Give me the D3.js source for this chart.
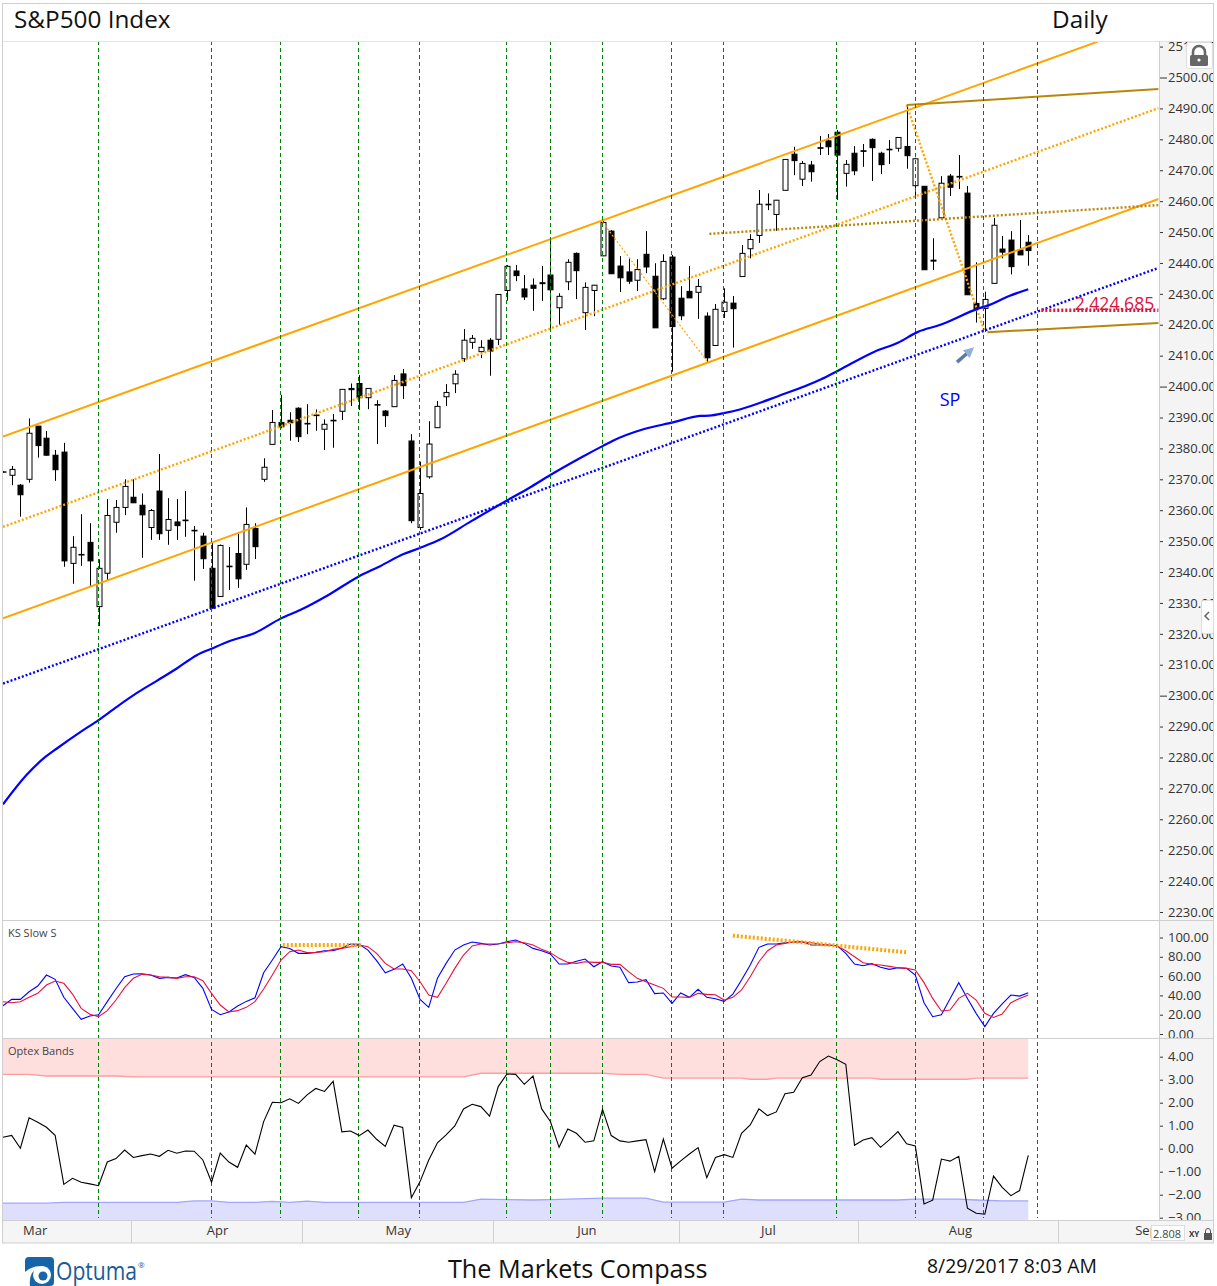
<!DOCTYPE html>
<html>
<head>
<meta charset="utf-8">
<title>S&amp;P500 Index</title>
<script src="https://cdn.jsdelivr.net/npm/d3@7/dist/d3.min.js"></script>
<style>
    html, body { margin: 0; padding: 0; background: #fff; }
    svg { display: block; font-family: "Open Sans", sans-serif; }
    .axis path.domain { display: none; }
    .axis line { stroke: #333; }
    .axis text { fill: #333; font-size: 13px; font-family: "Open Sans", sans-serif; }
</style>
</head>
<body>
<div id="chart"></div>
<script>
// first bar is index -1 (cut by the left edge), last is 117
var opens = [2372.3,
    2371.3, 2368.1, 2370, 2387.2, 2383.3, 2377.8, 2378.8, 2342.8, 2345.5, 2349.6,
    2328.8, 2339.6, 2356.1, 2360.9, 2364.2, 2361.6, 2354.4, 2366.2, 2353.5, 2356.2,
    2356.6, 2353.3, 2351.6, 2341.2, 2332.1, 2341.7, 2346, 2342.5, 2354.1, 2370,
    2381.3, 2388.4, 2389.1, 2393, 2387.9, 2390.8, 2386.2, 2388.9, 2392, 2399.4,
    2401, 2396.4, 2394, 2392.1, 2393.5, 2404.1, 2382.4, 2354.4, 2370.8, 2386.7,
    2396.7, 2400.9, 2409, 2414.3, 2411.3, 2415, 2415.3, 2431.1, 2437.4, 2431.6,
    2431.8, 2433.3, 2436.1, 2425.5, 2433.9, 2443.1, 2423.9, 2431.1, 2442.3, 2450.3,
    2439, 2437.1, 2434.4, 2442.8, 2435.7, 2428.4, 2441.9, 2428.6, 2430.8, 2430.5,
    2422.8, 2413.3, 2424.3, 2427, 2435.6, 2444.6, 2448.9, 2458.8, 2455.7, 2463.5,
    2475.2, 2467.1, 2471.7, 2477.1, 2479.5, 2482.3, 2469, 2475.5, 2476.1, 2480,
    2475.5, 2476.6, 2477.1, 2477.7, 2465, 2464.8, 2440.9, 2454.6, 2468.1, 2467.8,
    2462.6, 2426.9, 2425.3, 2433.4, 2444.5, 2447.4, 2444.2, 2446.7];
var closes = [2372.4,
    2373.2, 2365, 2384.9, 2380.9, 2377.8, 2373.1, 2343.6, 2348, 2345.7, 2343.6,
    2341.2, 2358.3, 2360.9, 2367.7, 2362.4, 2358.5, 2359.9, 2352.4, 2357, 2355,
    2356.8, 2353.5, 2344.3, 2328.3, 2348.6, 2341.9, 2337.8, 2355.4, 2348.2, 2373.9,
    2388.4, 2387, 2388.3, 2383.8, 2388.1, 2390.6, 2387.8, 2389.1, 2399.1, 2399,
    2396.4, 2399.4, 2394.2, 2390.6, 2402, 2400.3, 2356.6, 2365.4, 2381.4, 2393.6,
    2398.1, 2404, 2415, 2415.6, 2412.7, 2411.5, 2429.8, 2438.9, 2435.9, 2429,
    2432.8, 2433.6, 2431.3, 2429.2, 2440.2, 2437.5, 2432.1, 2432.8, 2453.1, 2436.5,
    2435.2, 2434.1, 2437.9, 2438.7, 2419, 2440.5, 2419.4, 2422.9, 2428.7, 2432.4,
    2409.3, 2425, 2427.3, 2425.2, 2443.1, 2447.6, 2459, 2459, 2460.3, 2473.5,
    2473.1, 2472.2, 2469.5, 2477.3, 2477.6, 2474.9, 2471.9, 2469.8, 2476.3, 2477.3,
    2471.8, 2476.8, 2480.6, 2474.7, 2473.7, 2437.8, 2440.6, 2465.8, 2464.5, 2468,
    2429.7, 2425.3, 2428.2, 2452.2, 2443.5, 2438.8, 2442.6, 2444];
var highs = [2372.6,
    2374.3, 2368.5, 2389.7, 2387.2, 2385.6, 2379.5, 2381.8, 2351.6, 2358.7, 2355.8,
    2344.1, 2363.6, 2363.3, 2370, 2370, 2365.4, 2360.4, 2378.2, 2363.9, 2363.6,
    2366.2, 2354.9, 2352.7, 2349.4, 2348.9, 2348.1, 2352.5, 2360.9, 2355.8, 2376.8,
    2392.4, 2397.3, 2391.7, 2393.3, 2394.3, 2392.6, 2389.4, 2391.1, 2399.2, 2401,
    2403.7, 2399.4, 2395.6, 2392.4, 2403.7, 2405.7, 2384.6, 2375.7, 2388.8, 2395.3,
    2400.8, 2405.3, 2418.6, 2416.7, 2415, 2415.7, 2429.9, 2439.3, 2439.3, 2436.1,
    2435, 2439, 2447.4, 2430.2, 2441.2, 2443.4, 2433.7, 2432.9, 2453.7, 2450.7,
    2442.2, 2441.5, 2441.2, 2450.3, 2439.9, 2442.8, 2442.6, 2432.5, 2439, 2434.8,
    2424, 2426.7, 2431.8, 2429.3, 2445.8, 2449.3, 2463.6, 2462.5, 2460.4, 2473.5,
    2477.6, 2473, 2473, 2481.1, 2481.7, 2483, 2473.3, 2477.8, 2478.5, 2480.3,
    2476, 2479.8, 2480.6, 2491.1, 2474, 2464.9, 2448, 2468.1, 2468.8, 2474.9,
    2464.9, 2440.2, 2430.7, 2454.6, 2448.7, 2450.3, 2453.9, 2449];
var lows = [2372.2,
    2368.1, 2357.9, 2368.9, 2377, 2377.6, 2369.5, 2341.7, 2336.2, 2342, 2335.4,
    2322.5, 2337.3, 2352.7, 2358.4, 2362.4, 2344.6, 2350.4, 2350.4, 2348.8, 2350.4,
    2351.4, 2337.2, 2341, 2328.2, 2332, 2334.2, 2334.9, 2340.7, 2344.2, 2369.2,
    2381.3, 2386.5, 2382.5, 2382.1, 2384.6, 2385.7, 2379.5, 2380.2, 2389.2, 2393.7,
    2392.4, 2392.7, 2381.4, 2386.9, 2393.5, 2396, 2355.8, 2353.6, 2370.2, 2386.7,
    2393.7, 2397.9, 2408, 2412.2, 2409.2, 2403.5, 2413.4, 2427.8, 2434.1, 2428,
    2424.5, 2427.7, 2418.9, 2419.9, 2431.2, 2428.3, 2418.3, 2422.8, 2442.2, 2436.5,
    2430.6, 2433.2, 2430.9, 2436.7, 2419, 2428, 2404.8, 2421.5, 2428.7, 2421.9,
    2407.8, 2413.2, 2422.2, 2412.6, 2435.6, 2441.5, 2446.5, 2457.1, 2450.4, 2463.5,
    2468.4, 2464.9, 2466.3, 2474.9, 2474.9, 2460.4, 2464.7, 2468.4, 2471.1, 2466.5,
    2468.8, 2472, 2476, 2470.5, 2462, 2437.8, 2437.7, 2454.6, 2461.7, 2463.9,
    2429.7, 2420.7, 2417.7, 2433.4, 2441.5, 2436.3, 2442.6, 2439.1];

// moving average, read at the bends of the line
var maIndex = [-1, 1.7, 3.8, 5.2, 8.1, 10, 12.1, 14.6, 16.7, 19, 21.3, 23, 25.1, 28, 31, 33.2, 36.4, 39.9, 42.4, 45.1, 46.9, 49.3, 52.8, 56.9, 59.5, 62, 65.7, 68.1, 69.2, 72.7, 76.1, 79.2, 80.3, 82.1, 83.8, 88.2, 93.1, 95.2, 99.3, 102, 104.3, 106.8, 111.3, 112.3, 114.8, 117];
var maValues = [2264.8, 2274.3, 2280, 2282.9, 2288.6, 2292.1, 2296.4, 2301.2, 2304.8, 2308.8, 2313.1, 2315.2, 2317.7, 2320.3, 2325, 2327.7, 2332.5, 2338.5, 2341.9, 2345.8, 2347.7, 2350.5, 2356.3, 2363, 2367.1, 2371.4, 2377.3, 2380.9, 2382.5, 2386.2, 2388.4, 2390.5, 2390.6, 2391.5, 2392.6, 2396.9, 2402.3, 2405.3, 2411.3, 2414.2, 2417.7, 2419.9, 2425.3, 2426.2, 2429.3, 2431.5];

// KS Slow S
var ksBlue = [29.3, 35.9, 35.9, 43.8, 49.7, 61.1, 56.6, 38, 26.6, 15.2,
    18.6, 20, 33.5, 46.9, 59.4, 62.1, 62.5, 61.1, 57.7, 58.7,
    58, 61.5, 58.7, 47.3, 25.5, 20, 22.8, 29, 33.8, 37.6,
    63.5, 76.7, 90.5, 88.7, 83.6, 83.6, 84.6, 86.3, 86.3, 89.1,
    93.2, 92.9, 87, 76, 63.5, 67, 72.5, 57.7, 35.9, 27.6,
    57.7, 73.2, 87, 92.2, 95.3, 93.9, 92.2, 93.2, 95.6, 97.4,
    93.9, 88.7, 86.3, 82.9, 72.5, 72.5, 75.3, 77.7, 69.7, 74.9,
    70.4, 69.1, 53.2, 53.9, 56.3, 41.8, 42.5, 31.7, 42.5, 38,
    46.3, 38, 36.6, 33.8, 41.4, 55.9, 71.5, 89.8, 93.2, 93.2,
    94.6, 95.3, 95.6, 92.2, 92.2, 92.2, 91.5, 83.6, 72.5, 70.8,
    72.9, 69.1, 67, 68.7, 68, 61.1, 32.4, 17.9, 20, 36.6,
    53.2, 36.9, 21.4, 7.6, 21.4, 31.1, 40.4, 39.3, 42.8];
var ksRed = [33.5, 32.4, 33.5, 38, 42.1, 50.7, 54.9, 52.5, 41.4, 26.6,
    20.4, 17.9, 24.2, 35.2, 48, 57.7, 61.8, 61.1, 59.4, 58.7,
    57.7, 59.4, 59.4, 55.2, 42.1, 30, 22.8, 24.2, 27.6, 33.5,
    46.6, 61.1, 76.7, 85.3, 87, 84.3, 84.6, 85.3, 87.7, 88.7,
    90.5, 92.2, 90.5, 83.6, 73.2, 67.3, 67.3, 65.6, 54.2, 40.4,
    38, 52.5, 68, 81.8, 91.2, 93.2, 93.2, 93.6, 94.6, 95.6,
    94.6, 92.2, 87.7, 84.3, 78.4, 74.2, 73.2, 74.9, 74.2, 74.2,
    72.2, 72.2, 64.6, 57.7, 54.2, 50.7, 47.3, 38.3, 38.3, 38,
    42.1, 41.1, 40.7, 35.2, 38, 45.6, 59.4, 74.9, 86.3, 92.2,
    93.9, 95.3, 95.3, 94.6, 93.2, 92.2, 91.2, 86.3, 80.1, 73.9,
    72.2, 71.5, 70.1, 68.7, 68, 66.3, 53.2, 36.9, 23.8, 24.8,
    36.9, 42.1, 35.2, 21.4, 17.2, 20.7, 32.4, 36.9, 40.4];

// Optex Bands
var optex = [0.5, 0.58, 0.02, 1.34, 1.15, 0.93, 0.58, -1.55, -1.29, -1.46,
    -1.53, -1.61, -0.58, -0.43, -0.06, -0.38, -0.3, -0.23, -0.33, -0.07,
    -0.2, -0.1, -0.11, -0.49, -1.46, -0.19, -0.58, -0.81, 0.16, -0.24,
    1.18, 2.02, 2, 2.17, 1.97, 2.34, 2.62, 2.49, 2.93, 0.73,
    0.77, 0.57, 0.81, 0.41, 0.1, 1.02, 0.92, -2.13, -1.43, -0.49,
    0.26, 0.6, 0.99, 1.73, 1.93, 1.83, 1.42, 2.7, 3.25, 3.23,
    2.8, 3.16, 1.73, 1.18, 0.06, 0.86, 0.67, 0.28, 0.34, 1.71,
    0.57, 0.34, 0.28, 0.34, 0.39, -1, 0.42, -0.85, -0.53, -0.23,
    0.05, -1.26, -0.38, -0.26, -0.38, 0.67, 1.03, 1.73, 1.44, 1.6,
    2.39, 2.45, 3.09, 3.2, 3.79, 4.03, 3.87, 3.67, 0.15, 0.38,
    0.48, 0.06, 0.38, 0.74, 0.21, 0.12, -2.4, -2.24, -0.45, -0.54,
    -0.33, -2.59, -2.81, -2.85, -1.19, -1.68, -2.04, -1.82, -0.29];
var upperBandIndex = [-1, 2, 4, 12, 14, 52, 54, 68, 70, 73, 75, 84, 85, 87, 88, 99, 100, 110, 111, 117];
var upperBand = [3.23, 3.23, 3.16, 3.16, 3.12, 3.12, 3.28, 3.28, 3.23, 3.23, 3.07, 3.07, 3.02, 3.02, 3.07, 3.07, 3.02, 3.02, 3.07, 3.07];
var lowerBandIndex = [-1, 4, 6, 19, 21, 23, 25, 28, 30, 32, 34, 36, 52, 54, 60, 62, 68, 73, 75, 82, 84, 86, 102, 104, 109, 111, 114, 117];
var lowerBand = [-2.37, -2.37, -2.33, -2.33, -2.27, -2.27, -2.33, -2.33, -2.29, -2.33, -2.28, -2.33, -2.33, -2.19, -2.23, -2.21, -2.15, -2.15, -2.32, -2.32, -2.19, -2.23, -2.23, -2.19, -2.19, -2.23, -2.27, -2.27];

var eventBars = [10, 23, 30.9, 39.9, 46.9, 57, 62, 68, 75.9, 81.9, 94.9, 104, 111.8, 118.03];

var monthLabels = ["Mar", "Apr", "May", "Jun", "Jul", "Aug", "Sep"];
var monthCenters = [2.7, 23.7, 44.5, 66.2, 87.1, 109.2, 130.6];
var monthEdges = [13.7, 33.4, 55.4, 76.8, 97.4, 120.4];

var mainTicks = d3.range(2230, 2511, 10);
var ksTicks = [0, 20, 40, 60, 80, 100];
var optexTicks = [-3, -2, -1, 0, 1, 2, 3, 4];

// trend lines: [bar, price] pairs
var channelTop = [[-1, 2383.8], [125, 2511.6]];
var channelMid = [[-1, 2354.6], [132, 2490.1]];
var channelLow = [[-1, 2325], [132, 2460.7]];
var supportLine = [[-1, 2303.9], [132, 2438.4]];
var brownTop = [[103, 2491.1], [132, 2496.3]];
var brownBottom = [[112.3, 2417.6], [132, 2420.6]];
var brownDotted = [[80.3, 2449.4], [132, 2458.7]];
var fallLeft = [[68, 2453.2], [80, 2408.3]];
var fallRight = [[103, 2491.1], [112, 2417.6]];
var levelValue = 2424.685;
var levelLine = [[118.5, levelValue], [132, levelValue]];
var arrowLine = [[108.8, 2407.9], [110.8, 2412.8]];
var ksDivergence1 = [[31.2, 92.2], [40.3, 92.2]];
var ksDivergence2 = [[83, 101.9], [103, 84.7]];

var width = 1217, height = 1286;
var left = 3, right = 1158.6, axisX = 1159, edge = 1213;
var top0 = 41, mainBottom = 920, ksBottom = 1038, optexBottom = 1220, dateBottom = 1243;

var svg = d3.select("#chart").append("svg").attr("width", width).attr("height", height);

var fnX = d3.scaleLinear().domain([-1, 132]).range([left, right]);
var fnY = d3.scaleLinear().domain([2230, 2510]).range([912, 46.6]);
var fnKs = d3.scaleLinear().domain([0, 100]).range([1034, 937.5]);
var fnOp = d3.scaleLinear().domain([-3, 4]).range([1217.7, 1056.7]);

var defs = svg.append("defs");
function addClip(id, x, y, w, h) {
    defs.append("clipPath").attr("id", id).append("rect")
        .attr("x", x).attr("y", y).attr("width", w).attr("height", h);
}
addClip("clipMain", left, top0, right - left, mainBottom - top0);
addClip("clipAxis", axisX, top0, edge - axisX, optexBottom - top0);
addClip("clipDate", left, optexBottom, 1151 - left, dateBottom - optexBottom);

// axis strip and date strip sit behind everything
svg.append("rect").attr("x", axisX).attr("y", top0).attr("width", edge - axisX).attr("height", optexBottom - top0).attr("fill", "#f4f4f4");
svg.append("rect").attr("x", left).attr("y", optexBottom).attr("width", edge - left).attr("height", dateBottom - optexBottom).attr("fill", "#f5f5f5");

// Optex band fills
var fnBandTop = d3.area().x(function (d) { return fnX(d[0]); }).y0(ksBottom + 1).y1(function (d) { return fnOp(d[1]); });
var fnBandBot = d3.area().x(function (d) { return fnX(d[0]); }).y0(optexBottom).y1(function (d) { return fnOp(d[1]); });
var fnOpLine = d3.line().x(function (d) { return fnX(d[0]); }).y(function (d) { return fnOp(d[1]); });
var upperPts = d3.zip(upperBandIndex, upperBand);
var lowerPts = d3.zip(lowerBandIndex, lowerBand);
svg.append("path").attr("d", fnBandTop(upperPts)).attr("fill", "#ffdede");
svg.append("path").attr("d", fnOpLine(upperPts)).attr("fill", "none").attr("stroke", "#ff9c9c").attr("stroke-width", 1.3);
svg.append("path").attr("d", fnBandBot(lowerPts)).attr("fill", "#dedeff");
svg.append("path").attr("d", fnOpLine(lowerPts)).attr("fill", "none").attr("stroke", "#a4a4ff").attr("stroke-width", 1.3);

// candles
var bars = opens.map(function (o, i) {
    return { i: i - 1, o: o, c: closes[i], h: highs[i], l: lows[i] };
});
var gMain = svg.append("g").attr("clip-path", "url(#clipMain)");
var gBars = gMain.selectAll("g.bar").data(bars).enter().append("g").attr("class", "bar");
gBars.append("line")
    .attr("x1", function (d) { return Math.round(fnX(d.i)) + 0.5; })
    .attr("x2", function (d) { return Math.round(fnX(d.i)) + 0.5; })
    .attr("y1", function (d) { return fnY(d.h); })
    .attr("y2", function (d) { return fnY(d.l); })
    .attr("stroke", "#000").attr("stroke-width", 1);
gBars.append("rect")
    .attr("x", function (d) { return Math.round(fnX(d.i)) - 2; })
    .attr("width", 5)
    .attr("y", function (d) { return fnY(Math.max(d.o, d.c)); })
    .attr("height", function (d) { return Math.abs(fnY(d.o) - fnY(d.c)); })
    .attr("fill", function (d) { return (d.c > d.o && d.c - d.o > 1) ? "#fff" : "#000"; })
    .attr("stroke", "#000").attr("stroke-width", 1);

// event lines run through all three panels
svg.selectAll("line.event").data(eventBars).enter().append("line")
    .attr("class", "event")
    .attr("x1", function (d) { return Math.floor(fnX(d)) + 0.5; })
    .attr("x2", function (d) { return Math.floor(fnX(d)) + 0.5; })
    .attr("y1", top0).attr("y2", optexBottom - 2)
    .attr("stroke", "#008000").attr("stroke-width", 1).attr("stroke-dasharray", "4,3");

// trend lines
var fnMain = d3.line().x(function (d) { return fnX(d[0]); }).y(function (d) { return fnY(d[1]); });
function addTrend(pts, color, w, dash) {
    var p = gMain.append("path").attr("d", fnMain(pts)).attr("fill", "none")
        .attr("stroke", color).attr("stroke-width", w);
    if (dash) p.attr("stroke-dasharray", dash);
}
addTrend(channelTop, "#ffa500", 2);
addTrend(channelLow, "#ffa500", 2);
addTrend(channelMid, "#ffa500", 2.4, "2,2");
addTrend(fallLeft, "#ffa500", 1.2, "2,2");
addTrend(fallRight, "#ffa500", 2.4, "2,2");
addTrend(brownTop, "#b8860b", 2);
addTrend(brownBottom, "#b8860b", 2);
addTrend(brownDotted, "#b8860b", 2.4, "2,2");
addTrend(supportLine, "#0000ff", 2.4, "2,2");
addTrend(levelLine, "#dc143c", 3.4, "2,2");

// moving average
gMain.append("path")
    .attr("d", fnMain.curve(d3.curveMonotoneX)(d3.zip(maIndex, maValues)))
    .attr("fill", "none").attr("stroke", "#0000ff").attr("stroke-width", 2.2);
fnMain.curve(d3.curveLinear);

// annotation arrow
defs.append("marker").attr("id", "arrowHead").attr("viewBox", "0 0 10 10").attr("refX", 2).attr("refY", 5)
    .attr("markerWidth", 3).attr("markerHeight", 3).attr("orient", "auto")
    .append("path").attr("d", "M0,0L10,5L0,10Z").attr("fill", "#8fb0d8");
gMain.append("path")
    .attr("d", fnMain([arrowLine[0], [arrowLine[0][0] + (arrowLine[1][0] - arrowLine[0][0]) * 0.62, arrowLine[0][1] + (arrowLine[1][1] - arrowLine[0][1]) * 0.62]]))
    .attr("fill", "none").attr("stroke", "#5b7ba6").attr("stroke-width", 3.5).attr("marker-end", "url(#arrowHead)");

gMain.append("text").attr("x", fnX(106.8)).attr("y", fnY(2393.7)).text("SP")
    .attr("fill", "#0000ff").style("font-size", "18px");
gMain.append("text").attr("x", fnX(131.5)).attr("y", fnY(2424.8)).text("2,424.685")
    .attr("text-anchor", "end").attr("fill", "#dc143c").style("font-size", "17.6px");

// KS panel
var fnKsLine = d3.line().x(function (d, i) { return fnX(i - 1); }).y(function (d) { return fnKs(d); });
svg.append("path").attr("d", fnKsLine(ksBlue)).attr("fill", "none").attr("stroke", "#0000ff").attr("stroke-width", 1.1);
svg.append("path").attr("d", fnKsLine(ksRed)).attr("fill", "none").attr("stroke", "#e8103c").attr("stroke-width", 1.1);
var fnKsPts = d3.line().x(function (d) { return fnX(d[0]); }).y(function (d) { return fnKs(d[1]); });
[ksDivergence1, ksDivergence2].forEach(function (pts) {
    svg.append("path").attr("d", fnKsPts(pts)).attr("fill", "none")
        .attr("stroke", "#ffa500").attr("stroke-width", 4).attr("stroke-dasharray", "2,2");
});

// Optex line
var fnOptex = d3.line().x(function (d, i) { return fnX(i - 1); }).y(function (d) { return fnOp(d); });
svg.append("path").attr("d", fnOptex(optex)).attr("fill", "none").attr("stroke", "#000").attr("stroke-width", 1.1);

// right hand axes
var gAxes = svg.append("g").attr("clip-path", "url(#clipAxis)");
function addAxis(scale, ticks, fmt) {
    var axis = d3.axisRight(scale).tickValues(ticks).tickFormat(d3.format(fmt)).tickSize(4).tickPadding(5);
    return gAxes.append("g").attr("class", "axis").attr("transform", "translate(" + axisX + ",0)").call(axis);
}
var gMainAxis = addAxis(fnY, mainTicks, ".2f");
gMainAxis.selectAll(".tick").filter(function (d) { return d % 100 === 0; }).select("line").attr("x2", 8);
addAxis(fnKs, ksTicks, ".2f");
addAxis(fnOp, optexTicks, ".2f");

// panel frame
function hLine(y, x1, x2, color) {
    svg.append("line").attr("x1", x1).attr("x2", x2).attr("y1", y).attr("y2", y).attr("stroke", color);
}
hLine(41.5, left, edge, "#e4e4e4");
hLine(mainBottom + 0.5, left, edge, "#cfcfcf");
hLine(ksBottom + 0.5, left, edge, "#cfcfcf");
hLine(optexBottom + 0.5, left, edge, "#cfcfcf");
svg.append("line").attr("x1", axisX + 0.5).attr("x2", axisX + 0.5).attr("y1", top0).attr("y2", optexBottom).attr("stroke", "#cfcfcf");
svg.append("rect").attr("x", 2.5).attr("y", 3.5).attr("width", 1211).attr("height", 1239.5)
    .attr("fill", "none").attr("stroke", "#cfcfcf");

// month strip
var gDate = svg.append("g").attr("clip-path", "url(#clipDate)");
gDate.selectAll("line.edge").data(monthEdges).enter().append("line")
    .attr("x1", function (d) { return Math.round(fnX(d)) + 0.5; })
    .attr("x2", function (d) { return Math.round(fnX(d)) + 0.5; })
    .attr("y1", optexBottom).attr("y2", dateBottom).attr("stroke", "#cfcfcf");
gDate.selectAll("text.month").data(monthLabels).enter().append("text")
    .attr("class", "month")
    .attr("x", function (d, i) { return fnX(monthCenters[i]); })
    .attr("y", 1235).attr("text-anchor", "middle")
    .attr("fill", "#333").style("font-size", "13px")
    .text(function (d) { return d; });

// value box in the corner
svg.append("rect").attr("x", 1151.5).attr("y", 1225.5).attr("width", 33).attr("height", 15).attr("fill", "#fff").attr("stroke", "#ddd");
svg.append("text").attr("x", 1153).attr("y", 1238).attr("fill", "#444").style("font-size", "11px").text("2.808");
svg.append("rect").attr("x", 1185).attr("y", 1225).attr("width", 28).attr("height", 16).attr("fill", "#f5f5f5");
svg.append("text").attr("x", 1189).attr("y", 1237).attr("fill", "#333").style("font-size", "8px").style("font-weight", "bold").text("XY");
svg.append("rect").attr("x", 1204).attr("y", 1233).attr("width", 8).attr("height", 7).attr("fill", "#555");
svg.append("path").attr("d", "M1205.5,1233v-2a2.5,2.5 0 0 1 5,0v2").attr("fill", "none").attr("stroke", "#555");

// lock button
svg.append("rect").attr("x", 1186.5).attr("y", 42.5).attr("width", 26).attr("height", 26).attr("rx", 2)
    .attr("fill", "#fdfdfd").attr("stroke", "#ddd");
svg.append("path").attr("d", "M1193,55v-3a6,6 0 0 1 12,0v3").attr("fill", "none").attr("stroke", "#666").attr("stroke-width", 2.6);
svg.append("rect").attr("x", 1190).attr("y", 55).attr("width", 18).attr("height", 11).attr("rx", 1.5).attr("fill", "#666");
svg.append("circle").attr("cx", 1199).attr("cy", 60).attr("r", 1.6).attr("fill", "#fff");

// collapse button
svg.append("rect").attr("x", 1201.5).attr("y", 600.5).attr("width", 12).attr("height", 33).attr("rx", 2)
    .attr("fill", "#fdfdfd").attr("stroke", "#ddd");
svg.append("path").attr("d", "M1209,612l-4,4l4,4").attr("fill", "none").attr("stroke", "#666").attr("stroke-width", 1.6);

// header, panel names, footer
svg.append("text").attr("x", 14).attr("y", 28).attr("fill", "#111").style("font-size", "24.3px").text("S&P500 Index");
svg.append("text").attr("x", 1052).attr("y", 28).attr("fill", "#111").style("font-size", "24.3px").text("Daily");
svg.append("text").attr("x", 8).attr("y", 937).attr("fill", "#444").style("font-size", "11px").text("KS Slow S");
svg.append("text").attr("x", 8).attr("y", 1055).attr("fill", "#444").style("font-size", "11px").text("Optex Bands");
svg.append("text").attr("x", 448).attr("y", 1278).attr("fill", "#111").style("font-size", "25.2px").text("The Markets Compass");
svg.append("text").attr("x", 927).attr("y", 1273).attr("fill", "#111").style("font-size", "19.4px").text("8/29/2017 8:03 AM");

// logo
var gLogo = svg.append("g");
gLogo.append("rect").attr("x", 25).attr("y", 1257).attr("width", 29).attr("height", 29).attr("rx", 4).attr("fill", "#1565a8");
gLogo.append("circle").attr("cx", 42).attr("cy", 1275).attr("r", 9).attr("fill", "#fff");
gLogo.append("circle").attr("cx", 43).attr("cy", 1276).attr("r", 4.5).attr("fill", "#1565a8");
gLogo.append("path").attr("d", "M25,1272q10,-9 24,-4q-12,-1 -17,5q-3,5 -2,13h-5z").attr("fill", "#fff");
gLogo.append("text").attr("x", 56).attr("y", 1280).attr("fill", "#1a5c96")
    .style("font-size", "25px").attr("textLength", 81).attr("lengthAdjust", "spacingAndGlyphs").text("Optuma");
gLogo.append("text").attr("x", 138).attr("y", 1268).attr("fill", "#1a5c96").style("font-size", "8px").text("®");
</script>
</body>
</html>
